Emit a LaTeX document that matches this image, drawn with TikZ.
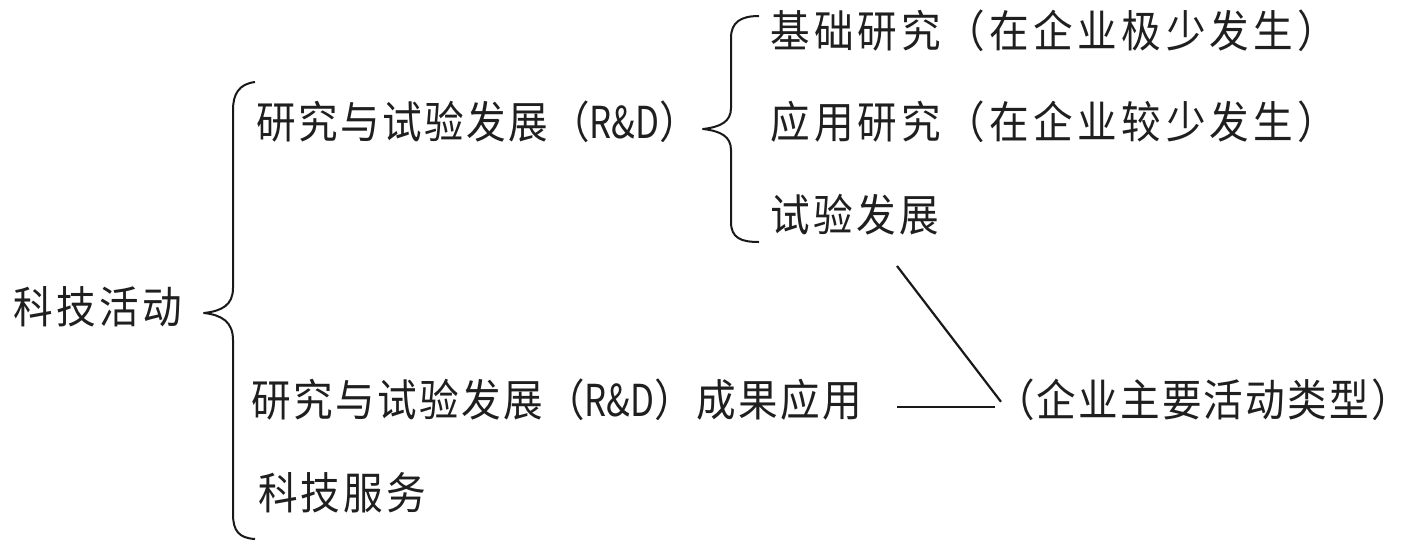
\documentclass[tikz,border=0pt]{standalone}
\usepackage{graphicx}
\usepackage{fontspec}
\newfontfamily\cjk{Noto Sans CJK SC}[FakeStretch=0.9,LetterSpace=5.5]
\newcommand{\rdtxt}{\scalebox{0.88}[1]{\addfontfeature{LetterSpace=0}R\&D}}
\newcommand{\lsp}[1]{\addfontfeature{LetterSpace=#1}}
\begin{document}
\begin{tikzpicture}[x=0.5pt,y=-0.5pt,
  lbl/.style={anchor=west,inner sep=0pt,outer sep=0pt,text height=0.72em,text depth=0pt,
    font=\fontsize{22pt}{24pt}\cjk,text=black!88},
  bracepath/.style={draw=black!90,line width=1pt,line join=round},
  conn/.style={draw=black!90,line width=1.1pt}]
\useasboundingbox[fill=white] (0,0) rectangle (1415,543);
% texts
\node[lbl] (kj)   at (13,316)  {\lsp{8}科技活动};
\node[lbl] (rd)   at (256,131) {研究与试验发展（\rdtxt）};
\node[lbl] (jc)   at (770,40)  {\lsp{10}基础研究（在企业极少发生）};
\node[lbl] (yy)   at (770,131) {\lsp{10}应用研究（在企业较少发生）};
\node[lbl] (sy)   at (770,224) {\lsp{8}试验发展};
\node[lbl] (cg)   at (251,409) {研究与试验发展（\rdtxt）成果应用};
\node[lbl] (fw)   at (258,502) {\lsp{7}科技服务};
\node[lbl] (zy)   at (995,409) {\lsp{5}（企业主要活动类型）};
% braces
\path[bracepath] (255,82) .. controls (239,84) and (233,94) .. (233,110)
  -- (233,288) .. controls (233,305) and (222,311) .. (204,313)
  .. controls (222,315) and (233,322) .. (233,340)
  -- (233,514) .. controls (233,531) and (239,538) .. (255,539);
\path[bracepath] (759,16) .. controls (741,16) and (731,22) .. (731,38)
  -- (731,108) .. controls (731,122) and (720,127) .. (703,129)
  .. controls (720,131) and (731,136) .. (731,150)
  -- (731,222) .. controls (731,238) and (741,242) .. (759,242);
% connectors
\coordinate (d1) at (897,266);
\coordinate (h1) at (897,407);
\draw[conn] (d1) -- ([xshift=3pt]zy.north west);
\draw[conn] (h1) -- (h1 -| zy.west);
\end{tikzpicture}
\end{document}
